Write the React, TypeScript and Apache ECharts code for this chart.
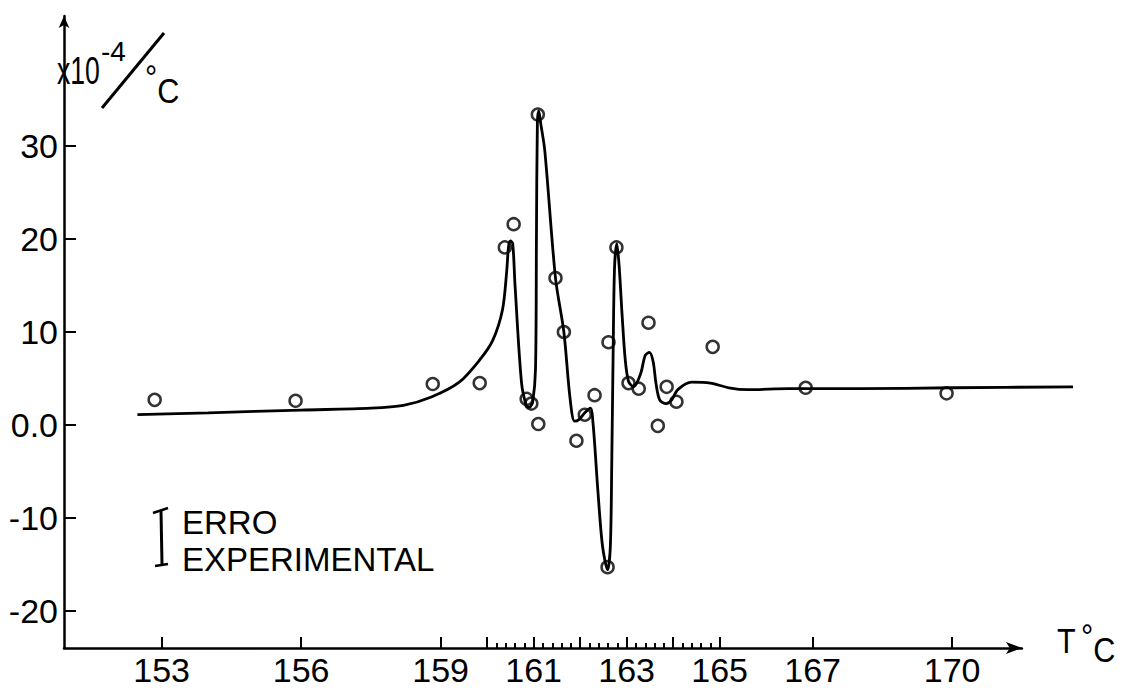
import React, { useEffect, useRef } from "react";
import * as echarts from "echarts";

// Experimental points (T in °C, value in 1e-4/°C)
const pointT = [152.85, 155.88, 158.83, 159.84, 160.38, 160.57, 160.85, 160.95, 161.1, 161.09, 161.47, 161.65, 161.92, 162.1, 162.31, 162.61, 162.59, 162.78, 163.04, 163.26, 163.47, 163.67, 163.86, 164.07, 164.85, 166.85, 169.88];
const pointV = [2.7, 2.6, 4.4, 4.5, 19.1, 21.6, 2.8, 2.3, 0.1, 33.4, 15.8, 10.0, -1.7, 1.1, 3.2, 8.9, -15.3, 19.1, 4.5, 3.9, 11.0, -0.1, 4.1, 2.5, 8.4, 4.0, 3.4];

// Fitted curve
const curveT = [152.48, 154.0, 156.0, 157.5, 158.2, 158.8, 159.4, 159.84, 160.12, 160.33, 160.42, 160.46, 160.5, 160.55, 160.6, 160.74, 160.85, 160.91, 160.98, 161.04, 161.06, 161.08, 161.11, 161.15, 161.24, 161.47, 161.65, 161.78, 161.88, 161.98, 162.1, 162.22, 162.28, 162.38, 162.48, 162.59, 162.65, 162.68, 162.71, 162.74, 162.79, 162.84, 162.9, 162.97, 163.04, 163.15, 163.3, 163.4, 163.49, 163.57, 163.63, 163.71, 163.85, 163.97, 164.1, 164.4, 164.8, 165.2, 165.6, 166.5, 168.0, 170.0, 172.6];
const curveV = [1.1, 1.3, 1.6, 1.8, 2.1, 3.0, 4.6, 7.0, 9.1, 12.4, 16.5, 19.2, 19.8, 19.5, 15.0, 4.5, 2.0, 1.9, 2.5, 6.0, 20.0, 32.5, 33.8, 32.5, 29.5, 15.8, 10.0, 3.0, 0.4, 0.6, 1.3, 1.8, 0.0, -7.0, -13.0, -15.6, -13.0, -4.0, 8.0, 17.0, 19.5, 17.0, 12.0, 7.0, 4.7, 4.1, 5.5, 7.5, 7.8, 6.8, 4.5, 2.7, 2.3, 2.7, 3.8, 4.6, 4.5, 4.0, 3.8, 3.9, 3.9, 4.0, 4.1];

const xLabelValues = [153, 156, 159, 161, 163, 165, 167, 170];
const xMajorTicks = [153, 156, 159, 160, 161, 162, 163, 164, 165, 167, 170];
const xMinorTicks = [160.2, 160.4, 160.6, 160.8, 161.2, 161.4, 161.6, 161.8, 162.2, 162.4, 162.6, 162.8, 163.2, 163.4, 163.6, 163.8, 164.2, 164.4, 164.6, 164.8];
const yTickValues = [-20, -10, 0, 10, 20, 30];

const SANS = "'Liberation Sans', Arial, sans-serif";
const X_MIN = 150.9;
const X_AXIS_MAX = 171.5;
const X_DATA_MAX = 172.7;
const Y_MIN = -24;
const Y_MAX = 44;

export default function App() {
  const ref = useRef<HTMLDivElement>(null);
  useEffect(() => {
    if (!ref.current) return;
    const chart = echarts.init(ref.current, null, { renderer: "svg" });
    const txt = (text: string, x: number, y: number, fontSize: number, scaleX = 1) => ({
      type: "text",
      x,
      y,
      scaleX,
      style: { text, fontSize, fontFamily: SANS, fill: "#000", align: "left", verticalAlign: "middle" },
    });
    const degC = (x: number, top: number) => ({
      type: "text",
      x,
      y: top,
      scaleX: 0.85,
      style: {
        text: "{d|°}{c|C}",
        fontFamily: SANS,
        fill: "#000",
        align: "left",
        verticalAlign: "top",
        rich: {
          d: { fontSize: 36, lineHeight: 36, verticalAlign: "top", fontFamily: SANS, fill: "#000" },
          c: { fontSize: 36, lineHeight: 49, verticalAlign: "bottom", fontFamily: SANS, fill: "#000" },
        },
      },
    });
    chart.setOption({
      animation: false,
      backgroundColor: "#fff",
      grid: [
        { left: 64, right: 105.1, top: 16, bottom: 44, containLabel: false },
        { left: 64, right: 49.3, top: 16, bottom: 44, containLabel: false },
      ],
      xAxis: [
        {
          type: "value",
          gridIndex: 0,
          min: X_MIN,
          max: X_AXIS_MAX,
          position: "bottom",
          splitLine: { show: false },
          axisLine: {
            show: true,
            onZero: false,
            symbol: ["none", "arrow"],
            symbolSize: [9, 16],
            lineStyle: { color: "#000", width: 2.5 },
          },
          axisTick: { show: true, inside: true, length: 11, customValues: xMajorTicks, lineStyle: { color: "#000", width: 2 } },
          axisLabel: {
            customValues: xLabelValues,
            color: "#000",
            fontSize: 34,
            fontFamily: SANS,
            margin: 5,
            formatter: (v: number) => String(v),
          },
        },
        {
          type: "value",
          gridIndex: 0,
          min: X_MIN,
          max: X_AXIS_MAX,
          position: "bottom",
          splitLine: { show: false },
          axisLine: { show: false, onZero: false },
          axisTick: { show: true, inside: true, length: 5, customValues: xMinorTicks, lineStyle: { color: "#000", width: 2 } },
          axisLabel: { show: false },
        },
        {
          type: "value",
          gridIndex: 1,
          min: X_MIN,
          max: X_DATA_MAX,
          show: false,
        },
      ],
      yAxis: [
        {
          type: "value",
          gridIndex: 0,
          min: Y_MIN,
          max: Y_MAX,
          splitLine: { show: false },
          axisLine: {
            show: true,
            onZero: false,
            symbol: ["none", "arrow"],
            symbolSize: [8, 12],
            lineStyle: { color: "#000", width: 2.5 },
          },
          axisTick: { show: true, inside: true, length: 12, customValues: yTickValues, lineStyle: { color: "#000", width: 2 } },
          axisLabel: {
            customValues: yTickValues,
            color: "#000",
            fontSize: 34,
            fontFamily: SANS,
            margin: 6,
            formatter: (v: number) => (v === 0 ? "0.0" : String(v)),
          },
        },
        {
          type: "value",
          gridIndex: 1,
          min: Y_MIN,
          max: Y_MAX,
          show: false,
        },
      ],
      series: [
        {
          type: "line",
          xAxisIndex: 2,
          yAxisIndex: 1,
          data: curveT.map((t, i) => [t, curveV[i]]),
          smooth: 0.3,
          showSymbol: false,
          clip: false,
          lineStyle: { color: "#000", width: 2.8 },
        },
        {
          type: "scatter",
          xAxisIndex: 2,
          yAxisIndex: 1,
          data: pointT.map((t, i) => [t, pointV[i]]),
          symbol: "circle",
          symbolSize: 12,
          clip: false,
          itemStyle: { color: "rgba(255,255,255,0)", borderColor: "#000", borderWidth: 2.5 },
        },
      ],
      graphic: [
        txt("x10", 57, 71, 38, 0.7),
        txt("-4", 101, 51, 28, 1),
        { type: "line", shape: { x1: 102, y1: 108, x2: 164, y2: 33 }, style: { stroke: "#000", lineWidth: 3 } },
        degC(145, 60),
        { type: "line", shape: { x1: 161, y1: 511, x2: 162, y2: 564 }, style: { stroke: "#000", lineWidth: 3 } },
        { type: "line", shape: { x1: 153, y1: 513, x2: 168, y2: 508 }, style: { stroke: "#000", lineWidth: 2.5 } },
        { type: "line", shape: { x1: 155, y1: 566, x2: 168, y2: 564 }, style: { stroke: "#000", lineWidth: 2.5 } },
        txt("ERRO", 182, 522, 33),
        txt("EXPERIMENTAL", 182, 559, 33),
        txt("T", 1057, 641, 36, 0.85),
        degC(1081, 619),
      ],
    });
    return () => chart.dispose();
  }, []);
  return <div ref={ref} style={{ position: "fixed", left: 0, top: 0, width: 1127, height: 692, background: "#fff" }} />;
}
